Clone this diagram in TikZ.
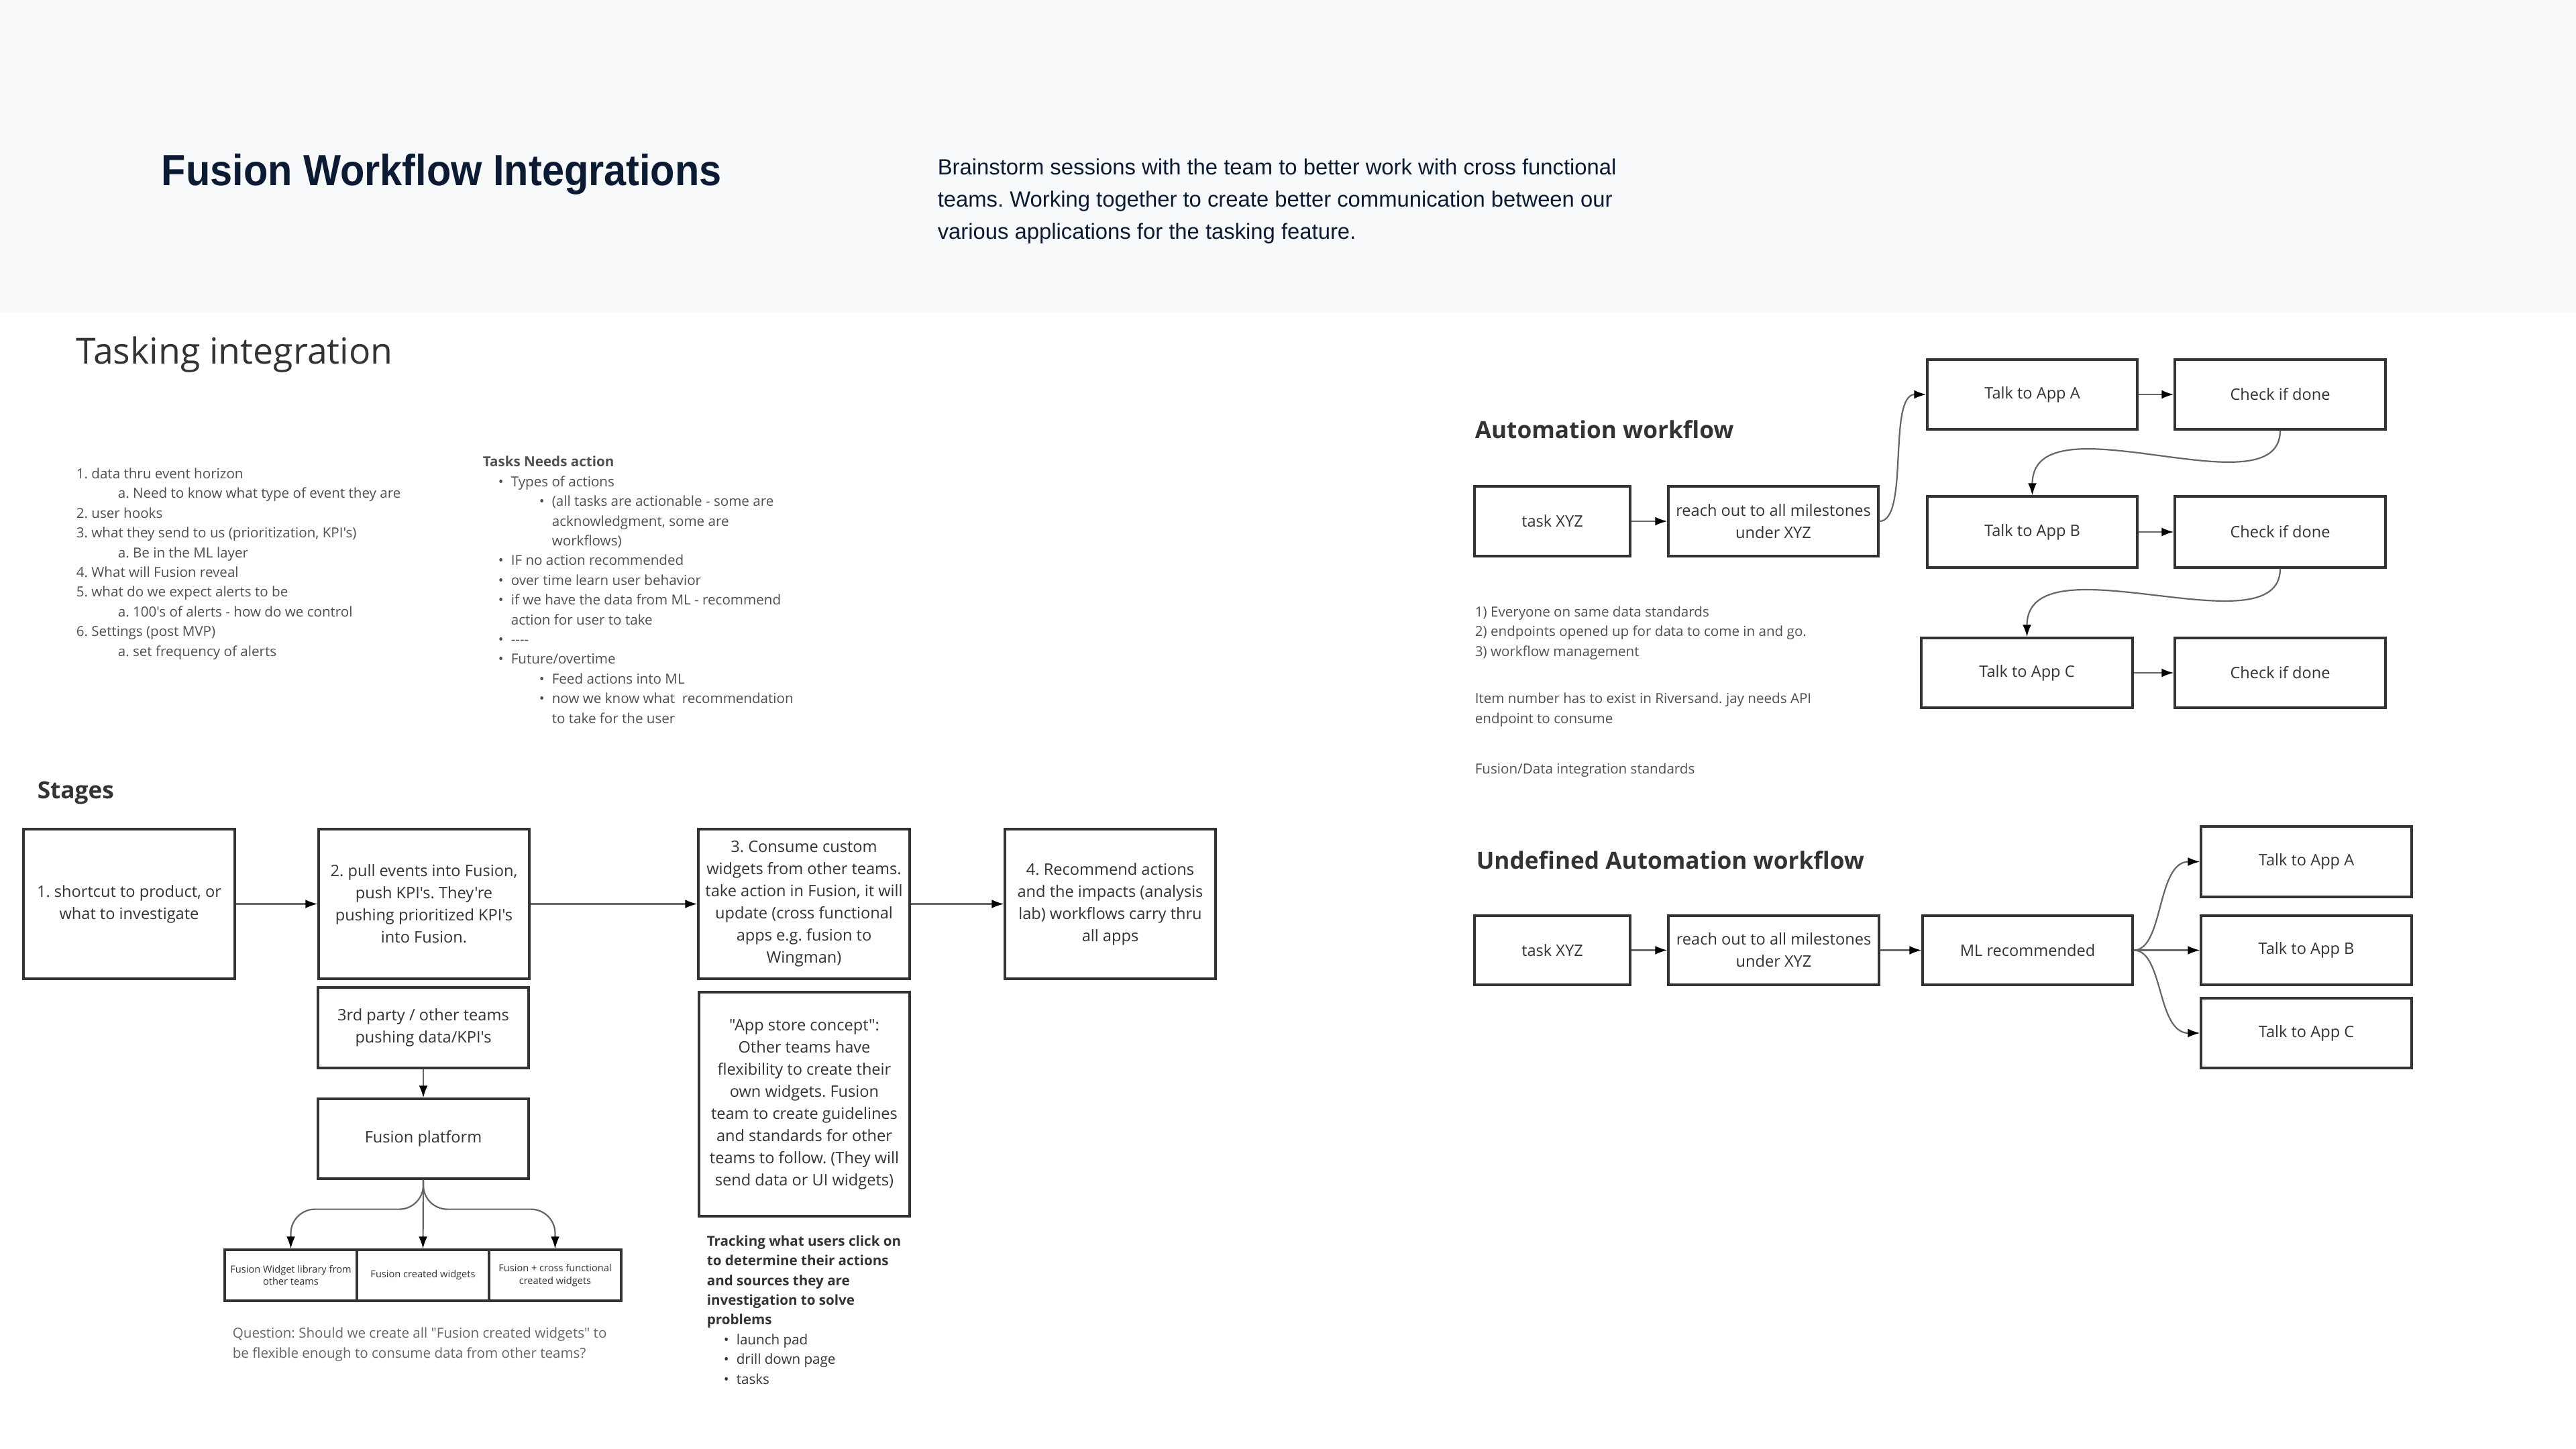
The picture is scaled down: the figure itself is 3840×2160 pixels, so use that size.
\documentclass[tikz,border=0pt]{standalone}
\usepackage{fontspec}
\usepackage{graphicx}
\setmainfont{Open Sans}[Ligatures=TeXOff]
\newfontfamily\hdfont{Liberation Sans}[Ligatures=TeXOff]
\usetikzlibrary{arrows.meta}
\definecolor{navy}{HTML}{0B1B33}
\definecolor{hdbg}{HTML}{F8F9FA}
\definecolor{ink}{HTML}{333333}
\definecolor{note}{HTML}{505050}
\definecolor{qnote}{HTML}{666666}
\definecolor{lnk}{HTML}{666666}
\newcommand\mkbox[7][]{%
  \pgfmathsetmacro\bw{(#5-#3)/4}\pgfmathsetmacro\bh{(#6-#4)/4}%
  \node[boxst,#1,minimum width=\bw pt,minimum height=\bh pt] (#2) at ({(#3+#5)/2},{(#4+#6)/2}) {#7};}
\tikzset{
  boxst/.style={draw=ink, line width=0.8pt, fill=white, align=center, inner sep=0pt, text=ink,
    font=\fontsize{5.9pt}{8.25pt}\selectfont},
  small/.style={font=\fontsize{3.65pt}{4.6pt}\selectfont},
  arr/.style={draw=lnk, line width=0.55pt, -{Latex[length=4.5pt,width=3.2pt,color=black]}},
  listtxt/.style={anchor=base west, align=left, inner sep=0pt, text=note,
    font=\fontsize{5.15pt}{7.35pt}\selectfont},
  heading/.style={anchor=base west, inner sep=0pt, text=ink,
    font=\fontsize{8.8pt}{10pt}\selectfont\bfseries},
}
\frenchspacing
\begin{document}
\frenchspacing
\begin{tikzpicture}[x=0.25pt,y=-0.25pt]
\useasboundingbox (0,0) rectangle (3840,2160);
\fill[white] (0,0) rectangle (3840,2160);
\fill[hdbg] (0,0) rectangle (3840,466);

% header
\node[anchor=base west, inner sep=0pt, text=navy, font=\hdfont\bfseries\fontsize{16.25pt}{18pt}\selectfont] (title) at (240,277) {\scalebox{0.915}[1]{Fusion Workflow Integrations}};
% base anchor of a multi-line node = baseline of its last line
\node[anchor=base west, align=left, inner sep=0pt, text=navy, font=\hdfont\fontsize{8.2pt}{12.1pt}\selectfont] (desc) at (1397,357)
 {Brainstorm sessions with the team to better work with cross functional\\
  teams. Working together to create better communication between our\\
  various applications for the tasking feature.};

% tasking integration
\node[anchor=base west, inner sep=0pt, text=ink, font=\fontsize{13.4pt}{15pt}\selectfont] (tasking) at (113,543) {Tasking integration};

\node[listtxt] (list1) at (113,978) {1. data thru event horizon\\
\hspace*{15.5pt}a. Need to know what type of event they are\\
2. user hooks\\
3. what they send to us (prioritization, KPI's)\\
\hspace*{15.5pt}a. Be in the ML layer\\
4. What will Fusion reveal\\
5. what do we expect alerts to be\\
\hspace*{15.5pt}a. 100's of alerts - how do we control\\
6. Settings (post MVP)\\
\hspace*{15.5pt}a. set frequency of alerts};

\node[listtxt] (list2) at (719,1078) {\textbf{Tasks Needs action}\\
\hspace*{5.75pt}\makebox[4.75pt][l]{•}Types of actions\\
\hspace*{21pt}\makebox[4.75pt][l]{•}(all tasks are actionable - some are\\
\hspace*{25.75pt}acknowledgment, some are\\
\hspace*{25.75pt}workflows)\\
\hspace*{5.75pt}\makebox[4.75pt][l]{•}IF no action recommended\\
\hspace*{5.75pt}\makebox[4.75pt][l]{•}over time learn user behavior\\
\hspace*{5.75pt}\makebox[4.75pt][l]{•}if we have the data from ML - recommend\\
\hspace*{10.5pt}action for user to take\\
\hspace*{5.75pt}\makebox[4.75pt][l]{•}----\\
\hspace*{5.75pt}\makebox[4.75pt][l]{•}Future/overtime\\
\hspace*{21pt}\makebox[4.75pt][l]{•}Feed actions into ML\\
\hspace*{21pt}\makebox[4.75pt][l]{•}now we know what~ recommendation\\
\hspace*{25.75pt}to take for the user};

% stages
\node[heading] (stages) at (55,1190) {Stages};
\mkbox{s1}{35}{1236}{350}{1459}{1. shortcut to product, or\\what to investigate}
\mkbox{s2}{475}{1236}{789}{1459}{2. pull events into Fusion,\\push KPI's. They're\\pushing prioritized KPI's\\into Fusion.}
\mkbox{s3}{474}{1472}{788}{1592}{3rd party / other teams\\pushing data/KPI's}
\mkbox{fp}{474}{1638}{788}{1757}{Fusion platform}
\mkbox[small]{w1}{335}{1863}{532}{1939}{Fusion Widget library from\\other teams}
\mkbox[small]{w2}{532}{1863}{729}{1939}{Fusion created widgets}
\mkbox[small]{w3}{729}{1863}{926}{1939}{Fusion + cross functional\\created widgets}
\mkbox{s4}{1041}{1236}{1356}{1459}{3. Consume custom\\widgets from other teams.\\take action in Fusion, it will\\update (cross functional\\apps e.g. fusion to\\Wingman)}
\mkbox{s5}{1498}{1236}{1812}{1459}{4. Recommend actions\\and the impacts (analysis\\lab) workflows carry thru\\all apps}
\mkbox{app}{1042}{1479}{1356}{1813}{"App store concept":\\Other teams have\\flexibility to create their\\own widgets. Fusion\\team to create guidelines\\and standards for other\\teams to follow. (They will\\send data or UI widgets)}

\node[listtxt, text=qnote] (question) at (346,2024) {Question: Should we create all "Fusion created widgets" to\\be flexible enough to consume data from other teams?};
\node[listtxt, text=ink] (tracking) at (1053,2063) {\textbf{Tracking what users click on}\\
\textbf{to determine their actions}\\
\textbf{and sources they are}\\
\textbf{investigation to solve}\\
\textbf{problems}\\
\hspace*{6.25pt}\makebox[4.75pt][l]{•}launch pad\\
\hspace*{6.25pt}\makebox[4.75pt][l]{•}drill down page\\
\hspace*{6.25pt}\makebox[4.75pt][l]{•}tasks};

\draw[arr] (s1.east) -- (s2.west);
\draw[arr] (s2.east) -- (s4.west);
\draw[arr] (s4.east) -- (s5.west);
\draw[arr] (s3.south) -- (fp.north);
\draw[arr, rounded corners=9pt] (fp.south) -- ++(0,44) -| (w1.north);
\draw[arr] (fp.south) -- (w2.north);
\draw[arr, rounded corners=9pt] (fp.south) -- ++(0,44) -| (w3.north);

% automation workflow
\node[heading] (autot) at (2198,654) {Automation workflow};
\mkbox{a1}{2198}{725}{2430}{829}{task XYZ}
\mkbox{a2}{2487}{725}{2800}{829}{reach out to all milestones\\under XYZ}
\mkbox{ta}{2873}{536}{3186}{640}{Talk to App A}
\mkbox{ca}{3242}{536}{3556}{640}{Check if done}
\mkbox{tb}{2873}{740}{3186}{846}{Talk to App B}
\mkbox{cb}{3242}{740}{3556}{846}{Check if done}
\mkbox{tc}{2864}{951}{3179}{1055}{Talk to App C}
\mkbox{cc}{3242}{951}{3556}{1055}{Check if done}
\draw[arr] (a1.east) -- (a2.west);
\draw[arr] (a2.east) .. controls +(45,0) and +(-58,0) .. (ta.west);
\draw[arr] (ta.east) -- (ca.west);
\draw[arr] (ca.south) .. controls +(0,125) and +(0,-150) .. (tb.north);
\draw[arr] (tb.east) -- (cb.west);
\draw[arr] (cb.south) .. controls +(0,125) and +(0,-150) .. (tc.north);
\draw[arr] (tc.east) -- (cc.west);

\node[listtxt] (notes1) at (2198,978) {1) Everyone on same data standards\\2) endpoints opened up for data to come in and go.\\3) workflow management};
\node[listtxt] (notes2) at (2198,1078) {Item number has to exist in Riversand. jay needs API\\endpoint to consume};
\node[listtxt] (notes3) at (2198,1153) {Fusion/Data integration standards};

% undefined automation workflow
\node[heading] (undt) at (2200,1295) {Undefined Automation workflow};
\mkbox{u1}{2198}{1365}{2430}{1468}{task XYZ}
\mkbox{u2}{2487}{1365}{2801}{1468}{reach out to all milestones\\under XYZ}
\mkbox{u3}{2866}{1365}{3179}{1468}{ML recommended}
\mkbox{ua}{3281}{1232}{3595}{1337}{Talk to App A}
\mkbox{ub}{3281}{1365}{3595}{1468}{Talk to App B}
\mkbox{uc}{3281}{1488}{3595}{1592}{Talk to App C}
\draw[arr] (u1.east) -- (u2.west);
\draw[arr] (u2.east) -- (u3.west);
\draw[arr] (u3.east) .. controls +(45,0) and +(-65,0) .. (ua.west);
\draw[arr] (u3.east) -- (ub.west);
\draw[arr] (u3.east) .. controls +(45,0) and +(-65,0) .. (uc.west);
\end{tikzpicture}
\end{document}
